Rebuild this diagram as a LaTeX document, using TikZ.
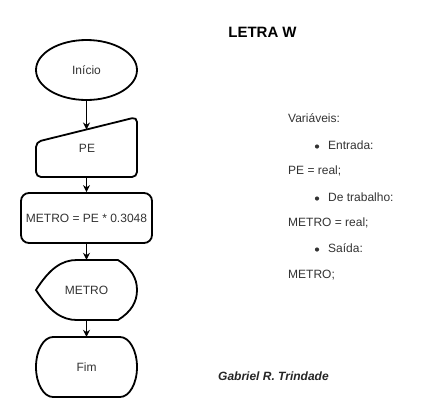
\documentclass[tikz,border=0pt]{standalone}
\usepackage{fontspec}
\setmainfont{Liberation Sans}
\usetikzlibrary{shapes.geometric,arrows.meta}
\definecolor{txt}{HTML}{333333}
\tikzset{
  shapeline/.style={draw=black, line width=1.8pt},
  lbl/.style={inner sep=0pt, text=txt, font=\fontsize{12}{14}\selectfont},
  slot/.style={inner sep=0pt, minimum width=101pt, minimum height=60pt},
  flow/.style={draw=black, line width=1pt, -{Stealth[length=7pt,width=7pt]}},
  side/.style={inner sep=0pt, anchor=west, text=txt, font=\fontsize{12}{14}\selectfont},
  dotmark/.style={circle, fill=txt, inner sep=0pt, minimum size=4.2pt},
}
\begin{document}
\begin{tikzpicture}[x=1pt,y=-1pt]
\useasboundingbox (0,0) rectangle (427,418);
\fill[white] (0,0) rectangle (427,418);

% Inicio
\node[ellipse, shapeline, inner sep=0pt, minimum width=101pt, minimum height=60pt, lbl] (ini) at (86.5,70) {Início};

% PE manual input
\draw[shapeline, rounded corners=5pt] (36,142) -- (137,117) -- (137,177) -- (36,177) -- cycle;
\node[slot] (pe) at (86.5,147) {};
\node[lbl] (petxt) at (87,148) {PE};
\coordinate (peTop) at (86.5,129.5);

% process
\node[draw=black, line width=1.8pt, rounded corners=8pt, inner sep=0pt, minimum width=131pt, minimum height=50pt, lbl] (calc) at (86.5,218) {METRO = PE * 0.3048};

% display
\draw[shapeline] (36,290) .. controls (50,268) and (62,260) .. (77,260) -- (118,260)
  .. controls (131,268) and (137,278) .. (137,290)
  .. controls (137,302) and (131,312) .. (118,320) -- (77,320)
  .. controls (62,320) and (50,312) .. (36,290) -- cycle;
\node[slot, lbl] (disp) at (86.5,290) {METRO};

% Fim
\draw[shapeline] (53,337) -- (120,337) arc[start angle=-90, end angle=90, x radius=17, y radius=30]
  -- (53,397) arc[start angle=90, end angle=270, x radius=17, y radius=30] -- cycle;
\node[slot, lbl] (fim) at (86.5,367) {Fim};

% connectors
\draw[flow] (ini.south) -- (peTop);
\draw[flow] (pe.south) -- (calc.north);
\draw[flow] (calc.south) -- (disp.north);
\draw[flow] (disp.south) -- (fim.north);

% right side text
\node[inner sep=0pt, font=\bfseries\fontsize{15}{17}\selectfont] (title) at (262.5,32) {LETRA W};
\node[side] (v) at (288,118) {Variáveis:};
\node[dotmark] (b1) at (317,146.5) {};
\node[side] (e) at (328,145) {Entrada:};
\node[side] (pr) at (288,171) {PE = real;};
\node[dotmark] (b2) at (317,198.5) {};
\node[side] (dt) at (328,197) {De trabalho:};
\node[side] (mr) at (288,223) {METRO = real;};
\node[dotmark] (b3) at (317,249.5) {};
\node[side] (sa) at (328,248) {Saída:};
\node[side] (m) at (288,275) {METRO;};
\node[inner sep=0pt, anchor=west, text=black!85, font=\bfseries\itshape\fontsize{12}{14}\selectfont] (auth) at (218,376) {Gabriel R. Trindade};
\end{tikzpicture}
\end{document}
